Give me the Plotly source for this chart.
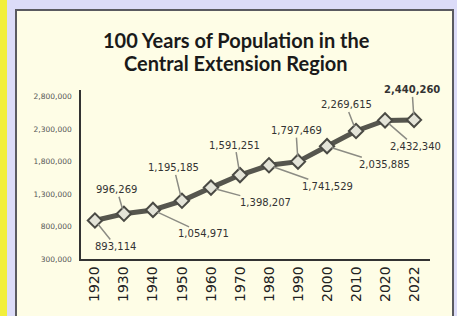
import plotly.graph_objects as go

years = ["1920", "1930", "1940", "1950", "1960", "1970", "1980", "1990", "2000", "2010", "2020", "2022"]
population = [893114, 996269, 1054971, 1195185, 1398207, 1591251, 1741529, 1797469, 2035885, 2269615, 2432340, 2440260]
y_ticks = [300000, 800000, 1300000, 1800000, 2300000, 2800000]
y_tick_labels = ["300,000", "800,000", "1,300,000", "1,800,000", "2,300,000", "2,800,000"]
title_lines = ["100 Years of Population in the", "Central Extension Region"]

# label offsets (pixels) for each data label
label_dx = [21, -7, 51, -8, 55, -5, 59, -2, 57, -10, 30, -2]
label_dy = [26, -24, 24, -33, 15, -30, 21, -31, 18, -26, 26, -30]

L, R, T, B = 81, 27, 90, 57
W, H = 457, 316
pw, ph = W - L - R, H - T - B

def px(x):
    return (x - L) / pw

def py(y):
    return (H - B - y) / ph

fig = go.Figure()
fig.add_trace(go.Scatter(
    x=years, y=population, mode="lines+markers",
    line=dict(color="#56564e", width=5),
    marker=dict(symbol="diamond", size=11, color="#e4e4d8",
                line=dict(color="#4a4a44", width=2)),
    hoverinfo="skip", showlegend=False,
))

annotations = []
for i, v in enumerate(population):
    txt = f"{v:,}"
    if i == len(years) - 1:
        txt = f"<b>{txt}</b>"
    annotations.append(dict(
        x=i, y=v, xref="x", yref="y", text=txt,
        showarrow=True, arrowhead=0, arrowwidth=1.5, arrowcolor="#8c8c84",
        ax=label_dx[i], ay=label_dy[i], standoff=5,
        font=dict(family="DejaVu Sans", size=10, color="#333333"),
    ))
for line, yc in zip(title_lines, [40, 63]):
    annotations.append(dict(
        x=px(236), y=py(yc), xref="paper", yref="paper", text=f"<b>{line}</b>",
        showarrow=False, xanchor="center", yanchor="middle",
        font=dict(family="Lato", size=20, color="#1a1a1a"),
    ))

shapes = [
    dict(type="rect", xref="paper", yref="paper", x0=px(0), x1=px(7), y0=py(-5), y1=py(330),
         fillcolor="#f2ef3c", line=dict(width=0), layer="below"),
    dict(type="rect", xref="paper", yref="paper", x0=px(16), x1=px(453), y0=py(10), y1=py(330),
         fillcolor="#fefde6", line=dict(color="#5a5a60", width=2), layer="below"),
]

fig.update_layout(
    width=W, height=H,
    margin=dict(l=L, r=R, t=T, b=B),
    paper_bgcolor="#dcdcf8",
    plot_bgcolor="rgba(0,0,0,0)",
    annotations=annotations,
    shapes=shapes,
    xaxis=dict(
        type="category", range=[-0.48, 11.55],
        showline=True, linecolor="#333333", linewidth=1.5,
        showgrid=False, zeroline=False, ticks="",
        tickangle=-90, tickfont=dict(family="DejaVu Sans", size=14, color="#222222"),
    ),
    yaxis=dict(
        range=[300000, 2900000], tickvals=y_ticks, ticktext=y_tick_labels,
        showline=True, linecolor="#333333", linewidth=1.5,
        showgrid=False, zeroline=False, ticks="",
        tickfont=dict(family="DejaVu Sans", size=7.5, color="#555555"),
        ticklabelstandoff=6,
    ),
)

fig.write_html(
    "out.html",
    config={"displayModeBar": False},
    post_script="document.body.style.margin='0px';document.body.style.overflow='hidden';",
)
